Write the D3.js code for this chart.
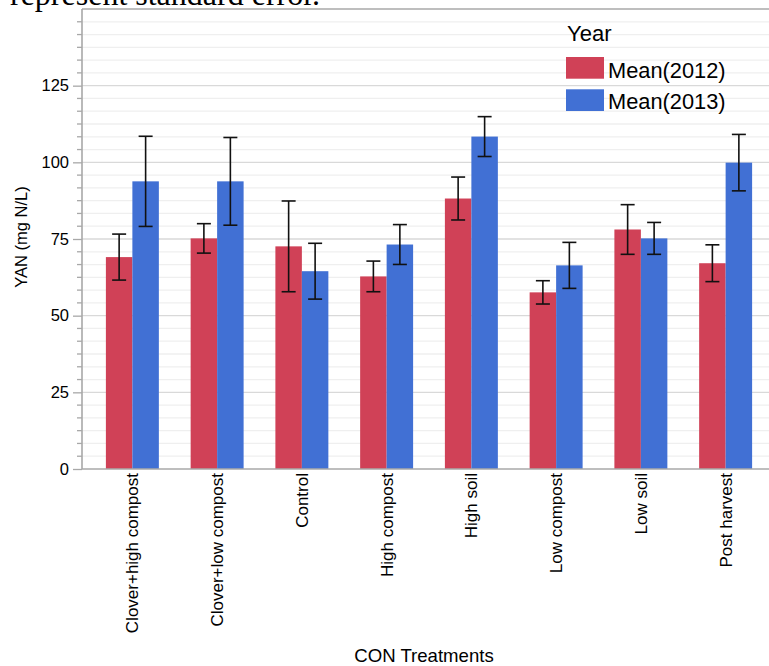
<!DOCTYPE html>
<html>
<head>
<meta charset="utf-8">
<script src="https://cdn.jsdelivr.net/npm/d3@7"></script>
<style>
  html, body { margin: 0; padding: 0; background: #fff; }
  svg { display: block; }
  text { font-family: "Liberation Sans", Arial, Helvetica, sans-serif; fill: #000; }
</style>
</head>
<body>
<svg id="chart" width="769" height="666"></svg>
<script>
const categories = ["Clover+high compost", "Clover+low compost", "Control", "High compost", "High soil", "Low compost", "Low soil", "Post harvest"];
const seriesNames = ["Mean(2012)", "Mean(2013)"];
const mean2012 = [69.1, 75.2, 72.6, 62.8, 88.2, 57.6, 78.1, 67.1];
const mean2013 = [93.8, 93.8, 64.5, 73.2, 108.4, 66.4, 75.2, 99.9];
const se2012 = [7.5, 4.8, 14.8, 5.0, 7.0, 3.8, 8.1, 6.0];
const se2013 = [14.7, 14.3, 9.1, 6.5, 6.5, 7.5, 5.2, 9.2];
const yTicks = [0, 25, 50, 75, 100, 125];
const colors = ["#d04157", "#4170d4"];

const svg = d3.select("#chart");
const pLeft = 82, pRight = 769, pTop = 9, pBottom = 469;

const y = d3.scaleLinear().domain([0, 150]).range([pBottom, pTop]);
const x0 = d3.scaleBand().domain(categories).range([90, 768]).paddingInner(0.375).paddingOuter(0.1875);
const x1 = d3.scaleBand().domain(seriesNames).range([0, x0.bandwidth()]).padding(0);

// caption remnant at top
svg.append("text").attr("x", 10).attr("y", 5)
  .style("font-family", "'Liberation Serif', 'Times New Roman', serif")
  .style("font-size", "32px").text("represent standard error.");

// minor gridlines
const minorVals = d3.range(0, 150.001, 25 / 6).filter(v => Math.abs(v / 25 - Math.round(v / 25)) > 1e-6);
svg.append("g").selectAll("line").data(minorVals).join("line")
  .attr("x1", pLeft).attr("x2", pRight)
  .attr("y1", d => y(d)).attr("y2", d => y(d))
  .attr("stroke", "#efefef").attr("stroke-width", 1.3);
// major gridlines
svg.append("g").selectAll("line").data(yTicks.filter(v => v > 0)).join("line")
  .attr("x1", pLeft).attr("x2", pRight)
  .attr("y1", d => y(d)).attr("y2", d => y(d))
  .attr("stroke", "#d9d9d9").attr("stroke-width", 1.3);

// top frame line
svg.append("line").attr("x1", pLeft).attr("x2", pRight).attr("y1", pTop).attr("y2", pTop)
  .attr("stroke", "#a8a8a8").attr("stroke-width", 1.5);

// bars
const data = categories.map((c, i) => ({ cat: c, vals: [
  { s: seriesNames[0], v: mean2012[i], e: se2012[i], k: 0 },
  { s: seriesNames[1], v: mean2013[i], e: se2013[i], k: 1 }
]}));

const groups = svg.append("g").selectAll("g").data(data).join("g")
  .attr("transform", d => `translate(${x0(d.cat)},0)`);
groups.selectAll("rect").data(d => d.vals).join("rect")
  .attr("x", d => x1(d.s)).attr("width", x1.bandwidth())
  .attr("y", d => y(d.v)).attr("height", d => y(0) - y(d.v))
  .attr("fill", d => colors[d.k]);

// error bars
const eb = groups.selectAll("g.eb").data(d => d.vals).join("g").attr("class", "eb")
  .attr("stroke", "#111").attr("stroke-width", 1.6);
eb.append("line")
  .attr("x1", d => x1(d.s) + x1.bandwidth() / 2).attr("x2", d => x1(d.s) + x1.bandwidth() / 2)
  .attr("y1", d => y(d.v + d.e)).attr("y2", d => y(d.v - d.e));
eb.append("line")
  .attr("x1", d => x1(d.s) + x1.bandwidth() / 2 - 7).attr("x2", d => x1(d.s) + x1.bandwidth() / 2 + 7)
  .attr("y1", d => y(d.v + d.e)).attr("y2", d => y(d.v + d.e));
eb.append("line")
  .attr("x1", d => x1(d.s) + x1.bandwidth() / 2 - 7).attr("x2", d => x1(d.s) + x1.bandwidth() / 2 + 7)
  .attr("y1", d => y(d.v - d.e)).attr("y2", d => y(d.v - d.e));

// y axis
const yAxis = d3.axisLeft(y).tickValues(yTicks).tickSize(9).tickPadding(4).tickFormat(d3.format("d"));
const ya = svg.append("g").attr("transform", `translate(${pLeft},0)`).call(yAxis);
ya.select(".domain").remove();
ya.selectAll(".tick line").attr("stroke", "#a8a8a8").attr("stroke-width", 1.3);
ya.selectAll(".tick text").style("font-size", "16.5px").style("font-family", "'Liberation Sans', Arial, sans-serif");
// minor ticks
svg.append("g").selectAll("line").data(minorVals).join("line")
  .attr("x1", pLeft - 5).attr("x2", pLeft)
  .attr("y1", d => y(d)).attr("y2", d => y(d))
  .attr("stroke", "#a8a8a8").attr("stroke-width", 1.3);
// y axis line
svg.append("line").attr("x1", pLeft).attr("x2", pLeft).attr("y1", pTop).attr("y2", pBottom)
  .attr("stroke", "#a8a8a8").attr("stroke-width", 1.6);

// x axis line
svg.append("line").attr("x1", pLeft).attr("x2", pRight).attr("y1", pBottom).attr("y2", pBottom)
  .attr("stroke", "#a8a8a8").attr("stroke-width", 1.6);

// x labels
const xAxis = d3.axisBottom(x0).tickSize(0).tickPadding(0);
const xa = svg.append("g").attr("transform", `translate(0,${pBottom})`).call(xAxis);
xa.select(".domain").remove();
xa.selectAll(".tick text")
  .style("font-size", "17px").style("font-family", "'Liberation Sans', Arial, sans-serif")
  .attr("text-anchor", "end")
  .attr("transform", "translate(0,4) rotate(-90)")
  .attr("x", 0).attr("y", 0).attr("dy", "0.35em");

// axis titles
svg.append("text").attr("transform", "translate(27,237) rotate(-90)")
  .attr("text-anchor", "middle").style("font-size", "16.5px").text("YAN (mg N/L)");
svg.append("text").attr("x", 424).attr("y", 662)
  .attr("text-anchor", "middle").style("font-size", "18.6px").text("CON Treatments");

// legend
const lg = svg.append("g");
lg.append("text").attr("x", 567).attr("y", 41).style("font-size", "22px").text("Year");
seriesNames.forEach((s, i) => {
  lg.append("rect").attr("x", 566).attr("y", 57 + i * 32.3).attr("width", 38).attr("height", 21.7)
    .attr("fill", colors[i]);
  lg.append("text").attr("x", 608).attr("y", 77.5 + i * 31).style("font-size", "21.8px").text(s);
});
</script>
</body>
</html>
